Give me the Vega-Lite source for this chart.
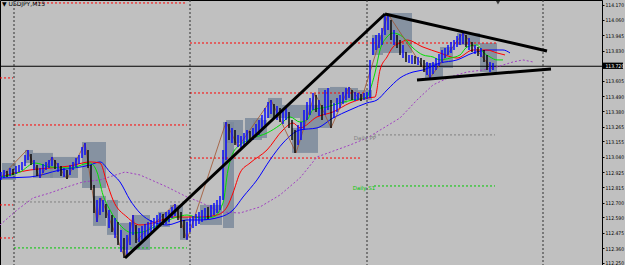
{
"$schema":"https://vega.github.io/schema/vega-lite/v6.json",
"width":602,"height":265,"autosize":"none",
"padding":{"left":0,"top":0,"right":23,"bottom":0},
"background":"#c0c0c0",
"config":{"view":{"stroke":"#000000","strokeWidth":1,"fill":"#c0c0c0"}},
"resolve":{"scale":{"x":"shared","y":"shared"},"axis":{"y":"independent","x":"independent"}},
"datasets":{
"bars":[
{"t":1,"h":112.927,"l":112.868,"d":0},{"t":4,"h":112.942,"l":112.883,"d":0},{"t":7,"h":112.935,"l":112.890,"d":1},{"t":10,"h":112.957,"l":112.898,"d":0},{"t":13,"h":112.950,"l":112.905,"d":1},
{"t":16,"h":112.972,"l":112.912,"d":0},{"t":19,"h":112.979,"l":112.927,"d":0},{"t":22,"h":113.002,"l":112.942,"d":0},{"t":25,"h":113.054,"l":112.972,"d":0},{"t":28,"h":113.091,"l":113.017,"d":0},
{"t":31,"h":113.061,"l":112.979,"d":1},{"t":34,"h":113.017,"l":112.942,"d":0},{"t":37,"h":112.979,"l":112.898,"d":1},{"t":40,"h":112.957,"l":112.883,"d":0},{"t":43,"h":112.987,"l":112.920,"d":0},
{"t":46,"h":113.002,"l":112.942,"d":0},{"t":49,"h":113.017,"l":112.957,"d":0},{"t":52,"h":113.039,"l":112.972,"d":0},{"t":55,"h":113.017,"l":112.950,"d":1},{"t":58,"h":112.994,"l":112.927,"d":0},
{"t":61,"h":112.972,"l":112.898,"d":1},{"t":64,"h":112.957,"l":112.890,"d":0},{"t":67,"h":112.942,"l":112.875,"d":1},{"t":70,"h":112.979,"l":112.905,"d":0},{"t":73,"h":113.002,"l":112.942,"d":0},
{"t":76,"h":113.031,"l":112.965,"d":0},{"t":79,"h":113.054,"l":112.987,"d":0},{"t":82,"h":113.113,"l":113.031,"d":0},{"t":85,"h":113.143,"l":113.054,"d":0},{"t":88,"h":113.091,"l":112.957,"d":1},
{"t":91,"h":112.979,"l":112.793,"d":1},{"t":94,"h":112.831,"l":112.622,"d":1},{"t":97,"h":112.719,"l":112.555,"d":0},{"t":100,"h":112.734,"l":112.607,"d":0},{"t":103,"h":112.719,"l":112.630,"d":0},
{"t":106,"h":112.689,"l":112.585,"d":1},{"t":109,"h":112.644,"l":112.511,"d":0},{"t":112,"h":112.607,"l":112.481,"d":1},{"t":115,"h":112.585,"l":112.436,"d":0},{"t":118,"h":112.555,"l":112.384,"d":1},
{"t":121,"h":112.496,"l":112.332,"d":0},{"t":124,"h":112.436,"l":112.287,"d":1},{"t":127,"h":112.459,"l":112.310,"d":0},{"t":130,"h":112.555,"l":112.384,"d":0},{"t":133,"h":112.607,"l":112.459,"d":0},
{"t":136,"h":112.533,"l":112.399,"d":1},{"t":139,"h":112.511,"l":112.407,"d":0},{"t":142,"h":112.526,"l":112.422,"d":0},{"t":145,"h":112.540,"l":112.436,"d":0},{"t":148,"h":112.555,"l":112.459,"d":0},
{"t":151,"h":112.570,"l":112.481,"d":0},{"t":154,"h":112.585,"l":112.496,"d":0},{"t":157,"h":112.607,"l":112.511,"d":0},{"t":160,"h":112.622,"l":112.526,"d":0},{"t":163,"h":112.615,"l":112.533,"d":1},
{"t":166,"h":112.630,"l":112.540,"d":0},{"t":169,"h":112.644,"l":112.555,"d":0},{"t":172,"h":112.667,"l":112.585,"d":0},{"t":175,"h":112.689,"l":112.600,"d":0},{"t":178,"h":112.667,"l":112.570,"d":1},
{"t":181,"h":112.630,"l":112.511,"d":1},{"t":184,"h":112.570,"l":112.436,"d":1},{"t":187,"h":112.555,"l":112.422,"d":0},{"t":190,"h":112.585,"l":112.481,"d":0},{"t":193,"h":112.600,"l":112.511,"d":0},
{"t":196,"h":112.615,"l":112.526,"d":0},{"t":199,"h":112.630,"l":112.540,"d":0},{"t":202,"h":112.644,"l":112.555,"d":0},{"t":205,"h":112.659,"l":112.570,"d":0},{"t":208,"h":112.667,"l":112.578,"d":1},
{"t":211,"h":112.682,"l":112.592,"d":0},{"t":214,"h":112.697,"l":112.607,"d":0},{"t":217,"h":112.719,"l":112.622,"d":0},{"t":220,"h":112.749,"l":112.644,"d":0},{"t":223,"h":113.091,"l":112.719,"d":0},
{"t":226,"h":113.299,"l":113.017,"d":0},{"t":229,"h":113.284,"l":113.165,"d":1},{"t":232,"h":113.255,"l":113.143,"d":0},{"t":235,"h":113.240,"l":113.128,"d":1},{"t":238,"h":113.203,"l":113.113,"d":0},
{"t":241,"h":113.195,"l":113.106,"d":0},{"t":244,"h":113.217,"l":113.121,"d":0},{"t":247,"h":113.240,"l":113.143,"d":0},{"t":250,"h":113.232,"l":113.150,"d":1},{"t":253,"h":113.255,"l":113.165,"d":0},
{"t":256,"h":113.284,"l":113.188,"d":0},{"t":259,"h":113.314,"l":113.203,"d":0},{"t":262,"h":113.351,"l":113.240,"d":0},{"t":265,"h":113.403,"l":113.277,"d":0},{"t":268,"h":113.448,"l":113.329,"d":0},
{"t":271,"h":113.463,"l":113.359,"d":0},{"t":274,"h":113.433,"l":113.329,"d":1},{"t":277,"h":113.418,"l":113.314,"d":0},{"t":280,"h":113.403,"l":113.299,"d":1},{"t":283,"h":113.389,"l":113.284,"d":0},
{"t":286,"h":113.411,"l":113.314,"d":0},{"t":289,"h":113.374,"l":113.255,"d":1},{"t":292,"h":113.314,"l":113.165,"d":1},{"t":295,"h":113.240,"l":113.069,"d":1},{"t":298,"h":113.277,"l":113.128,"d":0},
{"t":301,"h":113.299,"l":113.165,"d":0},{"t":304,"h":113.389,"l":113.240,"d":0},{"t":307,"h":113.448,"l":113.314,"d":0},{"t":310,"h":113.478,"l":113.351,"d":0},{"t":313,"h":113.515,"l":113.389,"d":0},
{"t":316,"h":113.500,"l":113.374,"d":1},{"t":319,"h":113.463,"l":113.344,"d":0},{"t":322,"h":113.426,"l":113.314,"d":1},{"t":325,"h":113.537,"l":113.351,"d":0},{"t":328,"h":113.552,"l":113.389,"d":0},
{"t":331,"h":113.463,"l":113.255,"d":1},{"t":334,"h":113.441,"l":113.329,"d":0},{"t":337,"h":113.478,"l":113.374,"d":0},{"t":340,"h":113.500,"l":113.403,"d":0},{"t":343,"h":113.523,"l":113.433,"d":0},
{"t":346,"h":113.552,"l":113.463,"d":0},{"t":349,"h":113.560,"l":113.478,"d":0},{"t":352,"h":113.537,"l":113.463,"d":1},{"t":355,"h":113.523,"l":113.456,"d":0},{"t":358,"h":113.515,"l":113.463,"d":0},
{"t":361,"h":113.508,"l":113.456,"d":1},{"t":364,"h":113.515,"l":113.463,"d":0},{"t":367,"h":113.523,"l":113.470,"d":0},{"t":370,"h":113.761,"l":113.478,"d":0},{"t":373,"h":113.924,"l":113.798,"d":0},
{"t":376,"h":113.947,"l":113.835,"d":0},{"t":379,"h":113.961,"l":113.850,"d":0},{"t":382,"h":113.999,"l":113.872,"d":0},{"t":385,"h":114.095,"l":113.947,"d":0},{"t":388,"h":114.103,"l":113.984,"d":0},
{"t":391,"h":114.058,"l":113.909,"d":1},{"t":394,"h":113.984,"l":113.872,"d":0},{"t":397,"h":113.947,"l":113.850,"d":1},{"t":400,"h":113.909,"l":113.798,"d":1},{"t":403,"h":113.872,"l":113.775,"d":0},
{"t":406,"h":113.820,"l":113.746,"d":1},{"t":409,"h":113.798,"l":113.738,"d":0},{"t":412,"h":113.798,"l":113.731,"d":0},{"t":415,"h":113.790,"l":113.731,"d":1},{"t":418,"h":113.783,"l":113.723,"d":0},
{"t":421,"h":113.775,"l":113.709,"d":1},{"t":424,"h":113.761,"l":113.671,"d":1},{"t":427,"h":113.746,"l":113.649,"d":0},{"t":430,"h":113.738,"l":113.627,"d":0},{"t":433,"h":113.746,"l":113.656,"d":0},
{"t":436,"h":113.775,"l":113.686,"d":0},{"t":439,"h":113.805,"l":113.716,"d":0},{"t":442,"h":113.835,"l":113.746,"d":0},{"t":445,"h":113.850,"l":113.775,"d":0},{"t":448,"h":113.872,"l":113.798,"d":0},
{"t":451,"h":113.894,"l":113.813,"d":0},{"t":454,"h":113.909,"l":113.835,"d":0},{"t":457,"h":113.939,"l":113.857,"d":0},{"t":460,"h":113.954,"l":113.872,"d":0},{"t":463,"h":113.961,"l":113.880,"d":0},
{"t":466,"h":113.947,"l":113.857,"d":1},{"t":469,"h":113.924,"l":113.835,"d":0},{"t":472,"h":113.894,"l":113.820,"d":1},{"t":475,"h":113.872,"l":113.805,"d":0},{"t":478,"h":113.857,"l":113.790,"d":1},
{"t":481,"h":113.850,"l":113.783,"d":0},{"t":484,"h":113.835,"l":113.746,"d":1},{"t":487,"h":113.798,"l":113.686,"d":1},{"t":490,"h":113.746,"l":113.671,"d":0},{"t":493,"h":113.738,"l":113.686,"d":0}
],
"boxes":[
{"a":2,"b":16,"p1":112.994,"p2":112.868},{"a":25,"b":33,"p1":113.091,"p2":112.994},{"a":33,"b":53,"p1":113.069,"p2":112.883},{"a":50,"b":78,"p1":113.039,"p2":112.883},
{"a":82,"b":106,"p1":113.150,"p2":112.808},{"a":93,"b":106,"p1":112.749,"p2":112.526},{"a":107,"b":118,"p1":112.719,"p2":112.459},{"a":120,"b":135,"p1":112.548,"p2":112.347},
{"a":132,"b":150,"p1":112.607,"p2":112.347},{"a":158,"b":170,"p1":112.630,"p2":112.518},{"a":170,"b":183,"p1":112.682,"p2":112.585},{"a":180,"b":188,"p1":112.592,"p2":112.422},
{"a":200,"b":222,"p1":112.682,"p2":112.533},{"a":223,"b":234,"p1":113.299,"p2":112.511},{"a":226,"b":243,"p1":113.314,"p2":113.143},{"a":245,"b":262,"p1":113.329,"p2":113.165},
{"a":253,"b":267,"p1":113.314,"p2":113.180},{"a":268,"b":282,"p1":113.478,"p2":113.329},{"a":282,"b":300,"p1":113.426,"p2":113.329},{"a":292,"b":300,"p1":113.255,"p2":113.069},
{"a":300,"b":318,"p1":113.426,"p2":113.069},{"a":318,"b":330,"p1":113.552,"p2":113.255},{"a":330,"b":347,"p1":113.560,"p2":113.441},{"a":347,"b":358,"p1":113.552,"p2":113.463},
{"a":355,"b":372,"p1":113.537,"p2":113.463},{"a":372,"b":383,"p1":113.947,"p2":113.798},{"a":383,"b":412,"p1":114.110,"p2":113.813},{"a":425,"b":443,"p1":113.738,"p2":113.627},
{"a":440,"b":453,"p1":113.857,"p2":113.701},{"a":457,"b":480,"p1":113.961,"p2":113.872},{"a":480,"b":497,"p1":113.887,"p2":113.671}
],
"levels":[
{"a":35,"b":187,"p":114.185,"c":"r"},{"a":14,"b":187,"p":113.277,"c":"r"},{"a":14,"b":187,"p":112.704,"c":"k"},{"a":14,"b":187,"p":112.362,"c":"g"},
{"a":0,"b":13,"p":113.627,"c":"r"},{"a":0,"b":13,"p":112.682,"c":"r"},{"a":0,"b":13,"p":112.436,"c":"r"},
{"a":190,"b":497,"p":113.887,"c":"r"},{"a":190,"b":365,"p":113.515,"c":"r"},{"a":190,"b":362,"p":113.031,"c":"r"},
{"a":374,"b":495,"p":113.203,"c":"k"},{"a":374,"b":495,"p":112.823,"c":"g"}
],
"seps":[{"t":14},{"t":190},{"t":367},{"t":543}],
"bid":[{"p":113.714}],
"green":[
{"t":0,"p":112.890},{"t":20,"p":112.927},{"t":35,"p":112.994},{"t":50,"p":112.965},{"t":70,"p":112.957},{"t":90,"p":112.994},{"t":97,"p":112.927},{"t":103,"p":112.756},{"t":110,"p":112.644},{"t":120,"p":112.533},{"t":133,"p":112.473},{"t":143,"p":112.481},{"t":158,"p":112.533},{"t":177,"p":112.592},{"t":187,"p":112.607},{"t":200,"p":112.585},{"t":213,"p":112.592},{"t":223,"p":112.697},{"t":228,"p":112.942},{"t":233,"p":113.069},{"t":240,"p":113.128},{"t":253,"p":113.180},{"t":267,"p":113.217},{"t":280,"p":113.277},{"t":290,"p":113.337},{"t":300,"p":113.299},{"t":307,"p":113.314},{"t":313,"p":113.389},{"t":327,"p":113.411},{"t":340,"p":113.441},{"t":353,"p":113.463},{"t":367,"p":113.485},{"t":370,"p":113.537},{"t":375,"p":113.664},{"t":380,"p":113.835},{"t":387,"p":113.932},{"t":393,"p":113.961},{"t":403,"p":113.932},{"t":413,"p":113.850},{"t":423,"p":113.798},{"t":433,"p":113.783},{"t":440,"p":113.761},{"t":450,"p":113.775},{"t":460,"p":113.798},{"t":467,"p":113.857},{"t":477,"p":113.872},{"t":483,"p":113.820},{"t":490,"p":113.783},{"t":497,"p":113.761},{"t":503,"p":113.761}
],
"red":[
{"t":0,"p":112.890},{"t":30,"p":112.942},{"t":50,"p":112.957},{"t":70,"p":112.972},{"t":90,"p":113.002},{"t":100,"p":112.994},{"t":107,"p":112.845},{"t":113,"p":112.719},{"t":127,"p":112.592},{"t":140,"p":112.533},{"t":153,"p":112.548},{"t":173,"p":112.592},{"t":200,"p":112.592},{"t":217,"p":112.607},{"t":227,"p":112.667},{"t":233,"p":112.771},{"t":240,"p":112.920},{"t":250,"p":112.994},{"t":267,"p":113.091},{"t":283,"p":113.240},{"t":293,"p":113.292},{"t":300,"p":113.255},{"t":317,"p":113.337},{"t":333,"p":113.374},{"t":350,"p":113.441},{"t":367,"p":113.478},{"t":375,"p":113.485},{"t":380,"p":113.686},{"t":387,"p":113.783},{"t":393,"p":113.857},{"t":400,"p":113.887},{"t":407,"p":113.909},{"t":423,"p":113.857},{"t":440,"p":113.813},{"t":457,"p":113.775},{"t":473,"p":113.835},{"t":487,"p":113.835},{"t":497,"p":113.813},{"t":505,"p":113.798}
],
"blue":[
{"t":0,"p":112.883},{"t":30,"p":112.890},{"t":60,"p":112.942},{"t":90,"p":112.979},{"t":100,"p":113.002},{"t":110,"p":112.927},{"t":120,"p":112.853},{"t":130,"p":112.719},{"t":140,"p":112.622},{"t":153,"p":112.555},{"t":167,"p":112.533},{"t":187,"p":112.570},{"t":200,"p":112.570},{"t":220,"p":112.592},{"t":233,"p":112.644},{"t":243,"p":112.741},{"t":257,"p":112.868},{"t":270,"p":113.017},{"t":283,"p":113.143},{"t":300,"p":113.240},{"t":317,"p":113.255},{"t":333,"p":113.329},{"t":350,"p":113.389},{"t":367,"p":113.441},{"t":377,"p":113.463},{"t":387,"p":113.537},{"t":400,"p":113.627},{"t":413,"p":113.671},{"t":423,"p":113.686},{"t":440,"p":113.738},{"t":457,"p":113.761},{"t":473,"p":113.813},{"t":490,"p":113.835},{"t":503,"p":113.835},{"t":510,"p":113.813}
],
"purple":[
{"t":0,"p":112.533},{"t":17,"p":112.644},{"t":33,"p":112.734},{"t":50,"p":112.771},{"t":67,"p":112.816},{"t":83,"p":112.853},{"t":100,"p":112.868},{"t":125,"p":112.927},{"t":140,"p":112.905},{"t":167,"p":112.816},{"t":187,"p":112.741},{"t":200,"p":112.704},{"t":220,"p":112.630},{"t":240,"p":112.622},{"t":260,"p":112.667},{"t":280,"p":112.756},{"t":300,"p":112.883},{"t":317,"p":113.039},{"t":350,"p":113.128},{"t":367,"p":113.180},{"t":400,"p":113.329},{"t":417,"p":113.463},{"t":433,"p":113.575},{"t":450,"p":113.634},{"t":467,"p":113.671},{"t":483,"p":113.686},{"t":497,"p":113.709},{"t":513,"p":113.746},{"t":523,"p":113.761},{"t":533,"p":113.746}
],
"zig":[
{"t":0,"p":112.883},{"t":27,"p":113.091},{"t":40,"p":112.883},{"t":52,"p":113.039},{"t":67,"p":112.875},{"t":85,"p":113.143},{"t":97,"p":112.555},{"t":101,"p":112.734},{"t":125,"p":112.287},{"t":133,"p":112.607},{"t":137,"p":112.422},{"t":175,"p":112.689},{"t":187,"p":112.422},{"t":226,"p":113.299},{"t":238,"p":113.113},{"t":271,"p":113.463},{"t":296,"p":113.069},{"t":315,"p":113.515},{"t":331,"p":113.255},{"t":349,"p":113.560},{"t":361,"p":113.456},{"t":388,"p":114.103},{"t":430,"p":113.627},{"t":463,"p":113.961},{"t":493,"p":113.686}
],
"trend":[
{"a":125,"pa":112.287,"b":385,"pb":114.103},{"a":385,"pa":114.103,"b":547,"pb":113.828},{"a":417,"pa":113.612,"b":551,"pb":113.694}
],
"labels":[
{"t":365,"p":113.180,"txt":"Daily PP","c":"k"},{"t":364,"p":112.808,"txt":"Daily S1","c":"g"}
],
"hl":[{"a":603,"b":623,"p1":113.741,"p2":113.694}],
"title":[{"t":2,"p":114.176,"txt":"▼ USDJPY,M15"}],
"marker":[{"t":498,"p":114.188}]
},
"layer":[
{"data":{"name":"boxes"},"mark":{"type":"rect","color":"#7b8a9b","opacity":0.85},
 "encoding":{"x":{"field":"a","type":"quantitative","scale":{"domain":[0,602],"nice":false,"zero":false},"axis":null},"x2":{"field":"b"},
 "y":{"field":"p1","type":"quantitative","scale":{"domain":[112.235,114.207],"nice":false,"zero":false},"axis":null},
 "y2":{"field":"p2"}}},
{"data":{"name":"levels"},"mark":{"type":"rule","strokeDash":[2,2],"strokeWidth":1},
 "encoding":{"x":{"field":"a","type":"quantitative","axis":null},"x2":{"field":"b"},"y":{"field":"p","type":"quantitative","axis":null},
 "color":{"field":"c","type":"nominal","scale":{"domain":["r","g","k"],"range":["#ff0000","#00c800","#808080"]},"legend":null}}},
{"data":{"name":"seps"},"mark":{"type":"rule","strokeDash":[2,2],"color":"#303030","strokeWidth":1},
 "encoding":{"x":{"field":"t","type":"quantitative","axis":null}}},
{"data":{"name":"bid"},"mark":{"type":"rule","color":"#000000","strokeWidth":1},
 "encoding":{"y":{"field":"p","type":"quantitative","axis":null}}},
{"data":{"name":"purple"},"mark":{"type":"line","color":"#a040c0","strokeWidth":1,"strokeDash":[2,2]},
 "encoding":{"x":{"field":"t","type":"quantitative","axis":null},"y":{"field":"p","type":"quantitative","axis":null}}},
{"data":{"name":"blue"},"mark":{"type":"line","color":"#0000ff","strokeWidth":1,"interpolate":"monotone"},
 "encoding":{"x":{"field":"t","type":"quantitative","axis":null},"y":{"field":"p","type":"quantitative","axis":null}}},
{"data":{"name":"red"},"mark":{"type":"line","color":"#ff0000","strokeWidth":1,"interpolate":"monotone"},
 "encoding":{"x":{"field":"t","type":"quantitative","axis":null},"y":{"field":"p","type":"quantitative","axis":null}}},
{"data":{"name":"green"},"mark":{"type":"line","color":"#00e000","strokeWidth":1,"interpolate":"monotone"},
 "encoding":{"x":{"field":"t","type":"quantitative","axis":null},"y":{"field":"p","type":"quantitative","axis":null}}},
{"data":{"name":"zig"},"mark":{"type":"line","color":"#a0522d","strokeWidth":0.8},
 "encoding":{"x":{"field":"t","type":"quantitative","axis":null},"y":{"field":"p","type":"quantitative","axis":null}}},
{"data":{"name":"bars"},"mark":{"type":"rule","strokeWidth":1.4},
 "encoding":{"x":{"field":"t","type":"quantitative","axis":null},"y":{"field":"h","type":"quantitative","axis":null},"y2":{"field":"l"},
 "color":{"condition":{"test":"datum.d==1","value":"#000000"},"value":"#0000ff"}}},
{"data":{"name":"trend"},"mark":{"type":"rule","color":"#000000","strokeWidth":3},
 "encoding":{"x":{"field":"a","type":"quantitative","axis":null},"x2":{"field":"b"},"y":{"field":"pa","type":"quantitative","axis":null},"y2":{"field":"pb"}}},
{"data":{"name":"labels"},"mark":{"type":"text","fontSize":5.5,"font":"DejaVu Sans","baseline":"middle","align":"center"},
 "encoding":{"x":{"field":"t","type":"quantitative","axis":null},"y":{"field":"p","type":"quantitative","axis":null},"text":{"field":"txt"},
 "color":{"field":"c","type":"nominal","scale":{"domain":["r","g","k"],"range":["#ff0000","#00c800","#808080"]},"legend":null}}},
{"data":{"name":"hl"},"mark":{"type":"rect","color":"#000000"},
 "encoding":{"x":{"field":"a","type":"quantitative","axis":null},"x2":{"field":"b"},"y":{"field":"p1","type":"quantitative","axis":null},"y2":{"field":"p2"}}},
{"data":{"name":"title"},"mark":{"type":"text","fontSize":6,"font":"DejaVu Sans","align":"left","baseline":"middle","color":"#000000"},
 "encoding":{"x":{"field":"t","type":"quantitative","axis":null},"y":{"field":"p","type":"quantitative","axis":null},"text":{"field":"txt"}}},
{"data":{"name":"marker"},"mark":{"type":"point","shape":"triangle-down","filled":true,"size":18,"color":"#000000"},
 "encoding":{"x":{"field":"t","type":"quantitative","axis":null},"y":{"field":"p","type":"quantitative",
  "axis":{"orient":"right","title":null,"grid":false,"zindex":2,"values":[114.17,114.06,113.945,113.83,113.72,113.605,113.49,113.38,113.265,113.155,113.04,112.925,112.815,112.7,112.59,112.475,112.36,112.25],
  "format":".3f","labelFontSize":5,"labelFont":"DejaVu Sans Condensed","labelOverlap":false,"labelBound":false,"labelPadding":1,"tickSize":2,"tickColor":"#000000","domainColor":"#000000",
  "labelColor":{"condition":{"test":"abs(datum.value-113.72)<0.001","value":"#ffffff"},"value":"#000000"}}}}}
]
}
